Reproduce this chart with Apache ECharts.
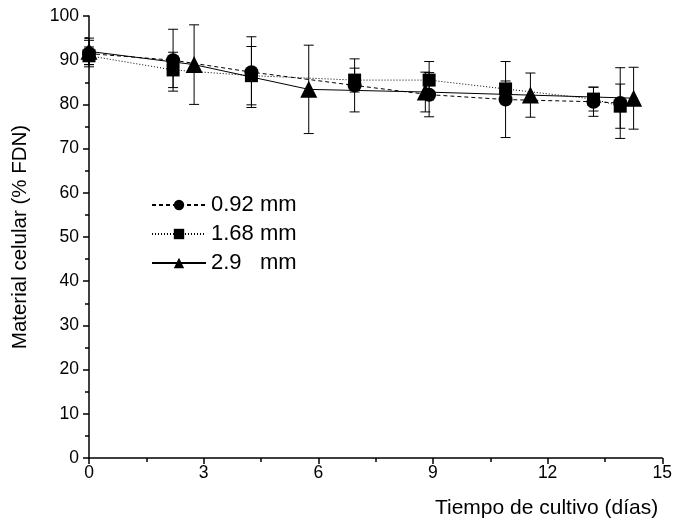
<!DOCTYPE html>
<html><head><meta charset="utf-8">
<script src="https://cdn.jsdelivr.net/npm/echarts@6/dist/echarts.min.js"></script>
<style>html,body{margin:0;padding:0;background:#fff}#c{width:675px;height:523px}</style>
</head><body><div id="c"></div>
<script>
// ---- data ----
const xTicks = [0, 3, 6, 9, 12, 15];
const yTicks = [0, 10, 20, 30, 40, 50, 60, 70, 80, 90, 100];
const xTitle = 'Tiempo de cultivo (días)';
const yTitle = 'Material celular (% FDN)';

const s1Name = '0.92 mm';
const s1Days = [0, 2.2, 4.25, 6.95, 8.9, 10.9, 13.2, 13.9];
const s1Vals = [91.5, 90.0, 87.3, 84.3, 82.2, 81.1, 80.6, 80.3];
const s1Err  = [3.0, 7.0, 8.0, 6.0, 5.0, 8.6, 3.3, 8.0];

const s2Name = '1.68 mm';
const s2Days = [0, 2.2, 4.25, 6.95, 8.9, 10.9, 13.2, 13.9];
const s2Vals = [91.0, 87.8, 86.5, 85.5, 85.5, 83.5, 81.2, 79.6];
const s2Err  = [2.0, 4.0, 6.6, 2.7, 4.2, 1.8, 2.7, 5.0];

const s3Name = '2.9   mm';
const s3Days = [0, 2.75, 5.75, 8.8, 11.55, 14.25];
const s3Vals = [92.0, 89.0, 83.4, 82.8, 82.1, 81.4];
const s3Err  = [3.0, 9.0, 10.0, 4.5, 5.0, 7.0];

// ---- chart ----
const FONT = 'Liberation Sans, Arial, sans-serif';
const chart = echarts.init(document.getElementById('c'), null, {renderer: 'canvas'});

function pts(days, vals) { return days.map((d, i) => [d, vals[i]]); }

function errSeries(days, vals, errs) {
  return {
    type: 'custom', silent: true, z: 1, clip: false,
    data: days.map((d, i) => [d, vals[i] - errs[i], vals[i] + errs[i]]),
    encode: {x: 0, y: [1, 2]},
    renderItem: function (params, api) {
      const x = api.value(0);
      const lo = api.coord([x, api.value(1)]);
      const hi = api.coord([x, api.value(2)]);
      const w = 5;
      const st = {stroke: '#000', lineWidth: 1};
      return {type: 'group', children: [
        {type: 'line', shape: {x1: lo[0], y1: lo[1], x2: hi[0], y2: hi[1]}, style: st},
        {type: 'line', shape: {x1: lo[0] - w, y1: lo[1], x2: lo[0] + w, y2: lo[1]}, style: st},
        {type: 'line', shape: {x1: hi[0] - w, y1: hi[1], x2: hi[0] + w, y2: hi[1]}, style: st}
      ]};
    }
  };
}

function lineSeries(name, days, vals, symbol, size, dash) {
  return {
    name: name, type: 'line', data: pts(days, vals), z: 3,
    symbol: symbol, symbolSize: size, showAllSymbol: true,
    itemStyle: {color: '#000'},
    lineStyle: {color: '#000', width: 1, type: dash},
    emphasis: {disabled: true}, animation: false
  };
}

chart.setOption({
  animation: false,
  backgroundColor: '#fff',
  grid: {left: 89, right: 8, top: 16, bottom: 65, containLabel: false},
  legend: {
    orient: 'vertical', left: 146, top: 189,
    itemWidth: 54, itemHeight: 13, itemGap: 7,
    data: [s1Name, s2Name, s3Name],
    textStyle: {fontSize: 22, color: '#000', fontFamily: FONT}
  },
  xAxis: {
    type: 'value', min: xTicks[0], max: xTicks[xTicks.length - 1], interval: 3,
    name: xTitle, nameLocation: 'end', nameGap: -4,
    nameTextStyle: {fontSize: 21, color: '#000', fontFamily: FONT, align: 'right', verticalAlign: 'top', padding: [40, 0, 0, 0]},
    axisLine: {lineStyle: {color: '#000', width: 1.5}},
    axisTick: {show: true, inside: false, length: 6, lineStyle: {color: '#000', width: 1.5}},
    minorTick: {show: true, splitNumber: 2, length: 4, lineStyle: {color: '#000', width: 1.5}},
    axisLabel: {fontSize: 17.5, color: '#000', fontFamily: FONT, margin: 6},
    splitLine: {show: false}
  },
  yAxis: {
    type: 'value', min: yTicks[0], max: yTicks[yTicks.length - 1], interval: 10,
    name: yTitle, nameLocation: 'middle', nameGap: 58,
    nameTextStyle: {fontSize: 20.5, color: '#000', fontFamily: FONT},
    axisLine: {show: true, lineStyle: {color: '#000', width: 1.5}},
    axisTick: {show: true, inside: false, length: 6, lineStyle: {color: '#000', width: 1.5}},
    minorTick: {show: true, splitNumber: 2, length: 4, lineStyle: {color: '#000', width: 1.5}},
    axisLabel: {fontSize: 17.5, color: '#000', fontFamily: FONT, margin: 10},
    splitLine: {show: false}
  },
  series: [
    errSeries(s1Days, s1Vals, s1Err),
    errSeries(s2Days, s2Vals, s2Err),
    errSeries(s3Days, s3Vals, s3Err),
    lineSeries(s1Name, s1Days, s1Vals, 'circle', 14, [4, 3]),
    lineSeries(s2Name, s2Days, s2Vals, 'rect', 13, [1, 2]),
    lineSeries(s3Name, s3Days, s3Vals, 'triangle', 17, 'solid')
  ]
});
</script>
</body></html>
